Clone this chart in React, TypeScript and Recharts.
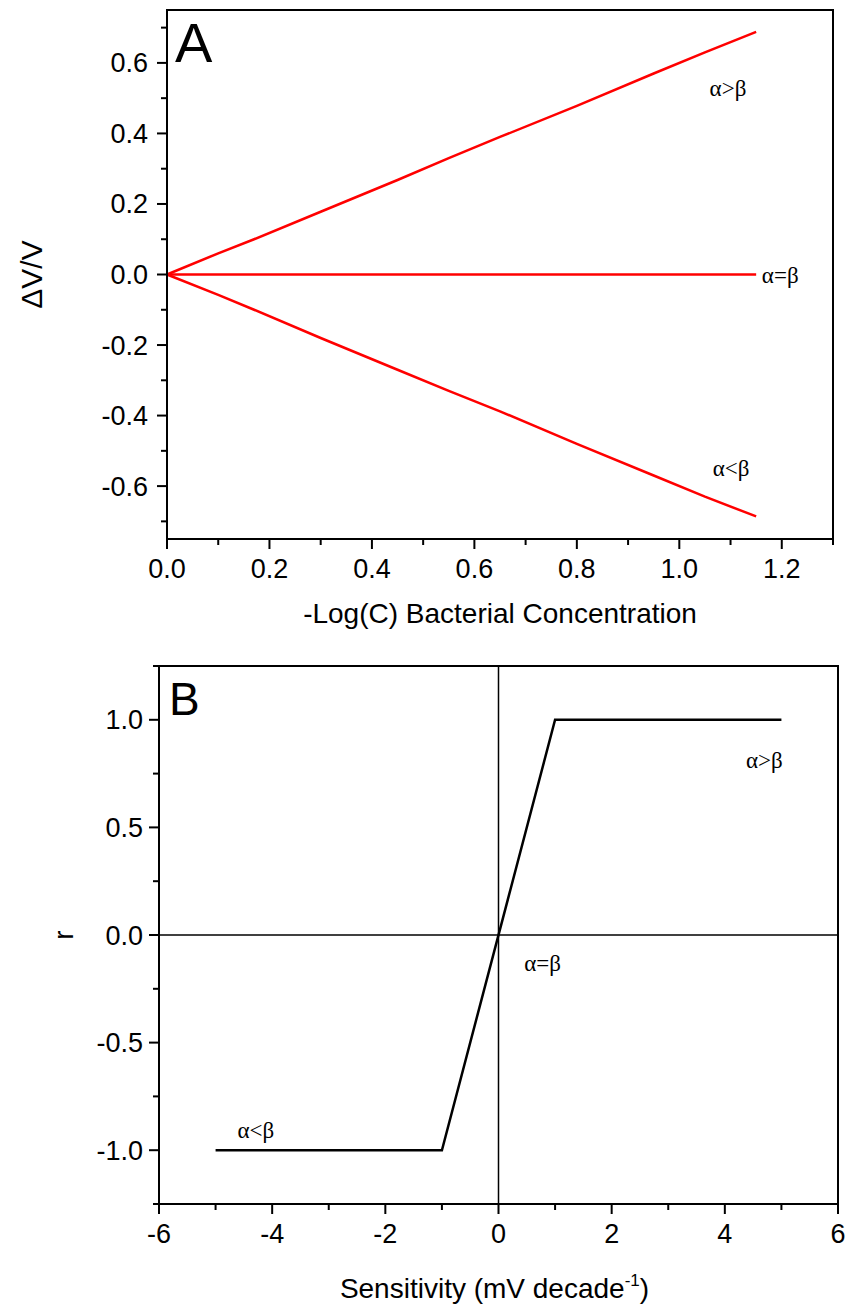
import React from 'react';
import { LineChart, Line, XAxis, YAxis, ReferenceArea, ReferenceLine, ReferenceDot } from 'recharts';

// Panel A: potential change vs concentration
const concA = [0, 0.1, 0.17, 0.3, 0.45, 0.55, 0.65, 0.8, 0.95, 1.05, 1.15];
const greaterA = [0, 0.06, 0.1, 0.178, 0.268, 0.33, 0.39, 0.478, 0.57, 0.63, 0.688];
const equalA = [0, 0, 0, 0, 0, 0, 0, 0, 0, 0, 0];
const lessA = [0, -0.058, -0.1, -0.18, -0.27, -0.33, -0.388, -0.48, -0.57, -0.63, -0.686];

const xTicksA = [0, 0.1, 0.2, 0.3, 0.4, 0.5, 0.6, 0.7, 0.8, 0.9, 1.0, 1.1, 1.2, 1.3];
const xMajorA = [0, 0.2, 0.4, 0.6, 0.8, 1.0, 1.2];
const yTicksA = [-0.7, -0.6, -0.5, -0.4, -0.3, -0.2, -0.1, 0, 0.1, 0.2, 0.3, 0.4, 0.5, 0.6, 0.7];
const yMajorA = [-0.6, -0.4, -0.2, 0, 0.2, 0.4, 0.6];

// Panel B: r vs sensitivity
const sensB = [-5, -1, 1, 5];
const rB = [-1, -1, 1, 1];

const xTicksB = [-6, -5, -4, -3, -2, -1, 0, 1, 2, 3, 4, 5, 6];
const xMajorB = [-6, -4, -2, 0, 2, 4, 6];
const yTicksB = [-1.25, -1, -0.75, -0.5, -0.25, 0, 0.25, 0.5, 0.75, 1, 1.25];
const yMajorB = [-1, -0.5, 0, 0.5, 1];

// annotation labels (data coordinates)
const notesA = [
  { text: 'α>β', x: 1.095, y: 0.529 },
  { text: 'α=β', x: 1.197, y: 0.0 },
  { text: 'α<β', x: 1.101, y: -0.549 },
];
const notesB = [
  { text: 'α>β', x: 4.7, y: 0.814 },
  { text: 'α=β', x: 0.78, y: -0.129 },
  { text: 'α<β', x: -4.29, y: -0.905 },
];

const dataA = concA.map((c, i) => ({ c, gt: greaterA[i], eq: equalA[i], lt: lessA[i] }));
const dataB = sensB.map((s, i) => ({ s, r: rB[i] }));

const SANS = 'Liberation Sans, Arial, sans-serif';
const SERIF = 'Liberation Serif, Times New Roman, serif';
const TICK_FS = 27;
const TITLE_FS = 28;
const NOTE_FS = 23;

const isMajor = (v: number, majors: number[]) => majors.some((m) => Math.abs(m - v) < 1e-9);

function BottomTick(props: any) {
  const { x, y, payload, majors, fmt } = props;
  const major = isMajor(payload.value, majors);
  return (
    <g>
      <line x1={x} x2={x} y1={y} y2={y + (major ? 10 : 6)} stroke="#000" strokeWidth={2} />
      {major && (
        <text x={x} y={y + 39} textAnchor="middle" fontSize={TICK_FS} fontFamily={SANS} fill="#000">
          {fmt(payload.value)}
        </text>
      )}
    </g>
  );
}

function LeftTick(props: any) {
  const { x, y, payload, majors, fmt, gap } = props;
  const major = isMajor(payload.value, majors);
  return (
    <g>
      <line x1={x} x2={x - (major ? 10 : 6)} y1={y} y2={y} stroke="#000" strokeWidth={2} />
      {major && (
        <text x={x - 10 - gap} y={y + 9.5} textAnchor="end" fontSize={TICK_FS} fontFamily={SANS} fill="#000">
          {fmt(payload.value)}
        </text>
      )}
    </g>
  );
}

const fmt1 = (v: number) => v.toFixed(1);
const fmt0 = (v: number) => String(v);

function PanelA() {
  return (
    <LineChart width={846} height={640} data={dataA} margin={{ top: 10, right: 13, bottom: 11, left: 0 }}>
      <XAxis
        dataKey="c"
        type="number"
        domain={[0, 1.3]}
        ticks={xTicksA}
        interval={0}
        height={90}
        tickSize={0}
        tickMargin={0}
        tickLine={false}
        axisLine={{ stroke: '#000', strokeWidth: 2 }}
        tick={(p: any) => <BottomTick {...p} majors={xMajorA} fmt={fmt1} />}
        label={{
          content: ({ viewBox }: any) => (
            <text x={viewBox.x + viewBox.width / 2} y={viewBox.y + 84} textAnchor="middle" fontSize={TITLE_FS} fontFamily={SANS} fill="#000">
              -Log(C) Bacterial Concentration
            </text>
          ),
        }}
      />
      <YAxis
        type="number"
        domain={[-0.75, 0.75]}
        ticks={yTicksA}
        interval={0}
        width={167}
        tickSize={0}
        tickMargin={0}
        tickLine={false}
        axisLine={{ stroke: '#000', strokeWidth: 2 }}
        tick={(p: any) => <LeftTick {...p} majors={yMajorA} fmt={fmt1} gap={9} />}
        label={{
          content: ({ viewBox }: any) => (
            <text transform={`translate(42, ${viewBox.y + viewBox.height / 2}) rotate(-90)`} textAnchor="middle" fontSize={30} fontFamily={SANS} fill="#000">
              ΔV/V
            </text>
          ),
        }}
      />
      <ReferenceArea
        x1={0}
        x2={1.3}
        y1={-0.75}
        y2={0.75}
        fill="none"
        stroke="#000"
        strokeWidth={2}
        label={{
          content: ({ viewBox }: any) => (
            <text x={viewBox.x + 8} y={viewBox.y + 52} fontSize={56} fontFamily={SANS} fill="#000">
              A
            </text>
          ),
        }}
      />
      <Line dataKey="gt" stroke="#ff0000" strokeWidth={2.5} dot={false} isAnimationActive={false} />
      <Line dataKey="eq" stroke="#ff0000" strokeWidth={2.5} dot={false} isAnimationActive={false} />
      <Line dataKey="lt" stroke="#ff0000" strokeWidth={2.5} dot={false} isAnimationActive={false} />
      {notesA.map((n) => (
        <ReferenceDot
          key={n.text}
          x={n.x}
          y={n.y}
          r={0}
          fill="none"
          stroke="none"
          label={{ value: n.text, position: 'center', fontSize: NOTE_FS, fontFamily: SERIF, fill: '#000' }}
        />
      ))}
    </LineChart>
  );
}

function PanelB() {
  return (
    <LineChart width={846} height={668} data={dataB} margin={{ top: 26, right: 8, bottom: 14, left: 0 }}>
      <XAxis
        dataKey="s"
        type="number"
        domain={[-6, 6]}
        ticks={xTicksB}
        interval={0}
        height={90}
        tickSize={0}
        tickMargin={0}
        tickLine={false}
        axisLine={{ stroke: '#000', strokeWidth: 2 }}
        tick={(p: any) => <BottomTick {...p} majors={xMajorB} fmt={fmt0} />}
        label={{
          content: ({ viewBox }: any) => (
            <text x={viewBox.x + viewBox.width / 2 - 4} y={viewBox.y + 94} textAnchor="middle" fontSize={TITLE_FS} fontFamily={SANS} fill="#000">
              Sensitivity (mV decade
              <tspan dy={-12} fontSize={17}>-1</tspan>
              <tspan dy={12}>)</tspan>
            </text>
          ),
        }}
      />
      <YAxis
        type="number"
        domain={[-1.25, 1.25]}
        ticks={yTicksB}
        interval={0}
        width={159}
        tickSize={0}
        tickMargin={0}
        tickLine={false}
        axisLine={{ stroke: '#000', strokeWidth: 2 }}
        tick={(p: any) => <LeftTick {...p} majors={yMajorB} fmt={fmt1} gap={6} />}
        label={{
          content: ({ viewBox }: any) => (
            <text transform={`translate(73, ${viewBox.y + viewBox.height / 2}) rotate(-90)`} textAnchor="middle" fontSize={TITLE_FS} fontFamily={SANS} fill="#000">
              r
            </text>
          ),
        }}
      />
      <ReferenceArea
        x1={-6}
        x2={6}
        y1={-1.25}
        y2={1.25}
        fill="none"
        stroke="#000"
        strokeWidth={2}
        label={{
          content: ({ viewBox }: any) => (
            <text x={viewBox.x + 10} y={viewBox.y + 49} fontSize={46} fontFamily={SANS} fill="#000">
              B
            </text>
          ),
        }}
      />
      <ReferenceLine x={0} stroke="#000" strokeWidth={1.5} />
      <ReferenceLine y={0} stroke="#000" strokeWidth={1.5} />
      <Line dataKey="r" stroke="#000" strokeWidth={2.5} dot={false} isAnimationActive={false} />
      {notesB.map((n) => (
        <ReferenceDot
          key={n.text}
          x={n.x}
          y={n.y}
          r={0}
          fill="none"
          stroke="none"
          label={{ value: n.text, position: 'center', fontSize: NOTE_FS, fontFamily: SERIF, fill: '#000' }}
        />
      ))}
    </LineChart>
  );
}

export default function App() {
  return (
    <div style={{ position: 'absolute', top: 0, left: 0, width: 846, height: 1308, background: '#fff' }}>
      <div style={{ position: 'absolute', top: 0, left: 0 }}>
        <PanelA />
      </div>
      <div style={{ position: 'absolute', top: 640, left: 0 }}>
        <PanelB />
      </div>
    </div>
  );
}
